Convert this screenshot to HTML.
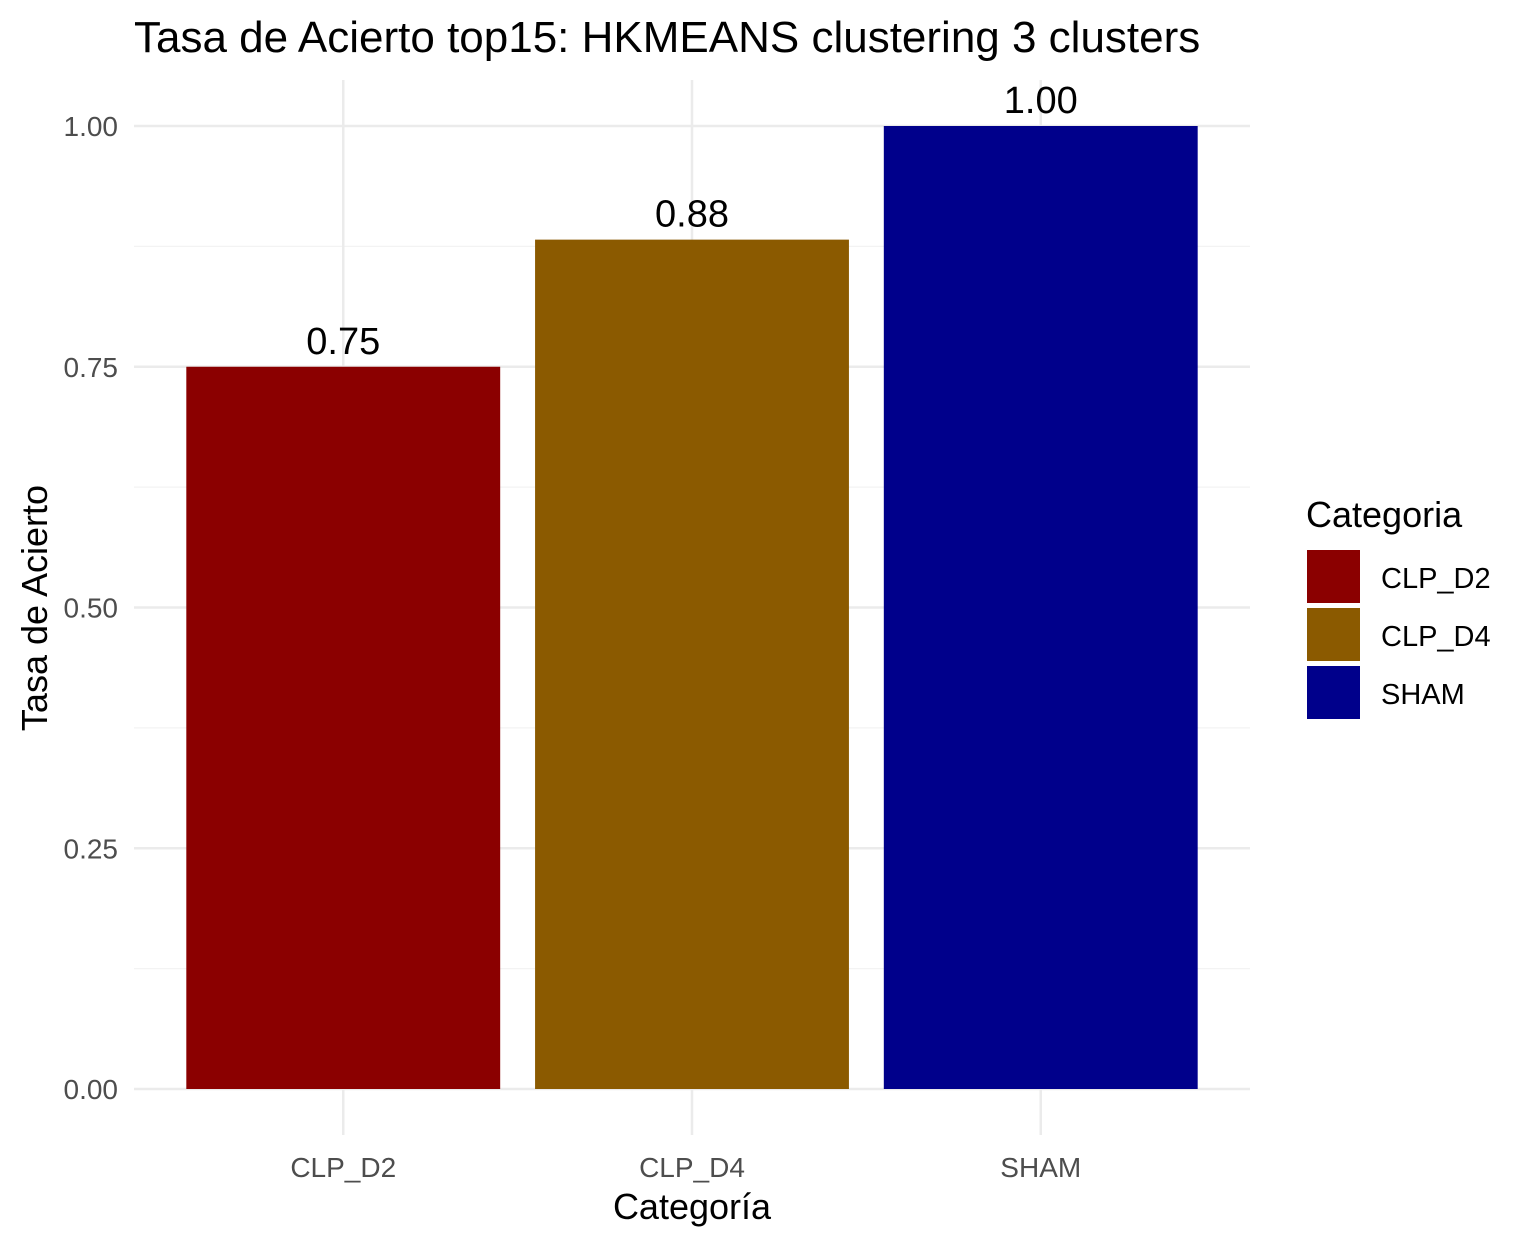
<!DOCTYPE html>
<html><head><meta charset="utf-8"><style>
body{margin:0;background:#fff;}
svg{display:block;font-family:"Liberation Sans",Arial,sans-serif;}
</style></head><body>
<svg id="chart" width="1527" height="1245" viewBox="0 0 1527 1245">
<text x="134" y="52" font-size="44" fill="#000">Tasa de Acierto top15: HKMEANS clustering 3 clusters</text>
<g id="grid"></g>
<g id="bars"></g>
<g id="axes"></g>
<text x="692" y="1219" font-size="36" text-anchor="middle" fill="#000">Categoría</text>
<text transform="translate(47,608) rotate(-90)" font-size="36" text-anchor="middle" fill="#000">Tasa de Acierto</text>
<g id="legend">
<text x="1306" y="527" font-size="36" fill="#000">Categoria</text>
</g>
</svg>
<script>
const categories = ["CLP_D2","CLP_D4","SHAM"];
const values = [0.75, 0.882, 1.0];
const valueLabels = ["0.75","0.88","1.00"];
const colors = ["#8b0000","#8b5a00","#00008b"];
const yTicks = [0, 0.25, 0.5, 0.75, 1.0];
const yTickLabels = ["0.00","0.25","0.50","0.75","1.00"];
const yMinor = [0.125, 0.375, 0.625, 0.875];

const NS="http://www.w3.org/2000/svg";
const pL=134, pR=1250, pT=80, pB=1135;
const y0=1089, y1=126;
const y = v => y0 - v*(y0-y1);
const step = (pR-pL)/(categories.length+0.2);
const xc = i => pL + step*(0.6+i);
const bw = step*0.9;
function mk(tag, attrs, parent){const e=document.createElementNS(NS,tag);for(const k in attrs)e.setAttribute(k,attrs[k]);parent.appendChild(e);return e;}
const grid=document.getElementById('grid'), bars=document.getElementById('bars'), axes=document.getElementById('axes'), legend=document.getElementById('legend');
yMinor.forEach(v=>{const l=mk('line',{x1:pL,x2:pR,y1:y(v),y2:y(v),stroke:'#f3f3f3','stroke-width':1.3},grid);

});
yTicks.forEach((v,i)=>{const l=mk('line',{x1:pL,x2:pR,y1:y(v),y2:y(v),stroke:'#ebebeb','stroke-width':2.5},grid);


const t=mk('text',{x:118,y:y(v)+10,'font-size':28,'text-anchor':'end',fill:'#4d4d4d'},axes);t.textContent=yTickLabels[i];

});
categories.forEach((c,i)=>{const l=mk('line',{x1:xc(i),x2:xc(i),y1:pT,y2:pB,stroke:'#ebebeb','stroke-width':2.5},grid);


const r=mk('rect',{x:xc(i)-bw/2,y:y(values[i]),width:bw,height:y0-y(values[i]),fill:colors[i]},bars);


const vl=mk('text',{x:xc(i),y:y(values[i])-13,'font-size':38,'text-anchor':'middle',fill:'#000'},bars);vl.textContent=valueLabels[i];


const t=mk('text',{x:xc(i),y:1177,'font-size':28,'text-anchor':'middle',fill:'#4d4d4d'},axes);t.textContent=c;


const k=mk('rect',{x:1307,y:550+i*58,width:53,height:53,fill:colors[i]},legend);


const lt=mk('text',{x:1381,y:588+i*58,'font-size':29,fill:'#000'},legend);lt.textContent=c;

});
</script>
</body></html>
